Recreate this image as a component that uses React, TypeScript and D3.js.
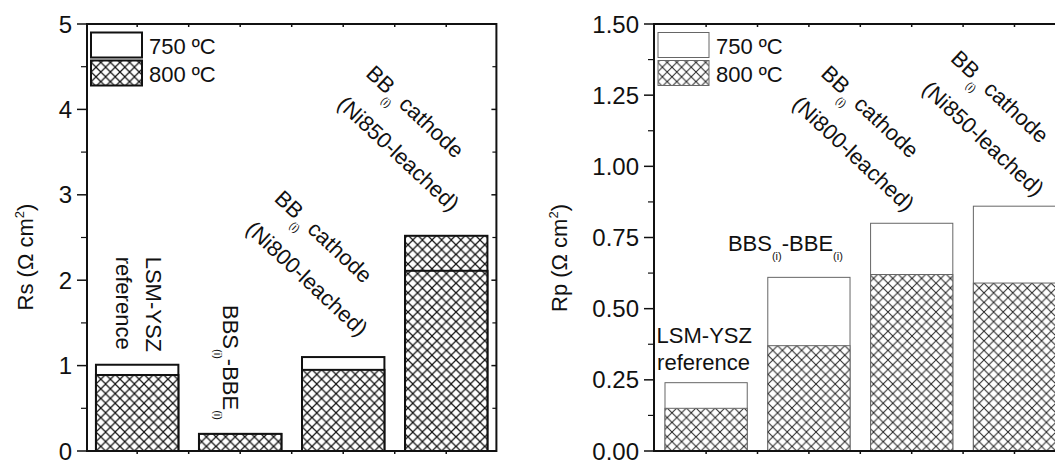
import React from "react";
import * as d3 from "d3";

const categories = ["LSM-YSZ reference", "BBS(i)-BBE(i)", "BB(i) cathode (Ni800-leached)", "BB(i) cathode (Ni850-leached)"];
const rs750 = [1.01, 0.2, 1.1, 2.52];
const rs800 = [0.89, 0.2, 0.95, 2.11];
const rp750 = [0.24, 0.61, 0.8, 0.86];
const rp800 = [0.15, 0.37, 0.62, 0.59];
const rsTicks = [0, 1, 2, 3, 4, 5];
const rsTickLabels = ["0", "1", "2", "3", "4", "5"];
const rpTicks = [0, 0.25, 0.5, 0.75, 1.0, 1.25, 1.5];
const rpTickLabels = ["0.00", "0.25", "0.50", "0.75", "1.00", "1.25", "1.50"];
const legendLabels = ["750 ºC", "800 ºC"];

const FONT = "'Liberation Sans', Arial, Helvetica, sans-serif";
const TOP = 24;
const BOTTOM = 451;

function Hatch({ id, color, sw }: { id: string; color: string; sw: number }) {
  const s = 9.6;
  return (
    <pattern id={id} width={s} height={s} patternUnits="userSpaceOnUse">
      <rect width={s} height={s} fill="white" />
      <path d={`M-1,-1 L${s + 1},${s + 1} M${s + 1},-1 L-1,${s + 1}`} stroke={color} strokeWidth={sw} />
    </pattern>
  );
}

function Panel(props: {
  x0: number; x1: number; po: number; max: number; ticks: number[]; tickLabels: string[];
  minorStep: number; v750: number[]; v800: number[]; barStroke: string; barSW: number;
  hatchId: string; hatchUpper: number[];
}) {
  const { x0, x1, po, max, ticks, tickLabels, minorStep, v750, v800, barStroke, barSW, hatchId, hatchUpper } = props;
  const x = d3.scaleBand<number>().domain(categories.map((_, i) => i)).range([x0, x1]).paddingInner(0.2).paddingOuter(po);
  const y = d3.scaleLinear().domain([0, max]).range([BOTTOM, TOP]);
  const bw = x.bandwidth();
  const step = x.step();
  const minor = d3.range(0, max + 1e-9, minorStep).filter((v) => !ticks.some((t) => Math.abs(t - v) < 1e-9));
  const catTicks: number[] = [];
  categories.forEach((_, i) => {
    catTicks.push(x(i)! + bw / 2);
    catTicks.push(x(i)! + bw + (step - bw) / 2);
  });
  return (
    <g>
      {categories.map((_, i) => (
        <g key={i}>
          <rect x={x(i)} y={y(v750[i])} width={bw} height={y(0) - y(v750[i])}
            fill={hatchUpper.includes(i) ? `url(#${hatchId})` : "white"} stroke={barStroke} strokeWidth={barSW} />
          <rect x={x(i)} y={y(v800[i])} width={bw} height={y(0) - y(v800[i])}
            fill={`url(#${hatchId})`} stroke={barStroke} strokeWidth={barSW} />
        </g>
      ))}
      <rect x={x0} y={TOP} width={x1 - x0} height={BOTTOM - TOP} fill="none" stroke="#111" strokeWidth={2} />
      {ticks.map((t, i) => (
        <g key={"t" + i}>
          <line x1={x0 - 10} x2={x0} y1={y(t)} y2={y(t)} stroke="#111" strokeWidth={1.5} />
          <line x1={x1 - 5} x2={x1} y1={y(t)} y2={y(t)} stroke="#111" strokeWidth={1.5} />
          <text x={x0 - 15} y={y(t) + 8.5} textAnchor="end" fontSize={24} fontFamily={FONT} fill="#111">{tickLabels[i]}</text>
        </g>
      ))}
      {minor.map((t, i) => (
        <g key={"m" + i}>
          <line x1={x0 - 6} x2={x0} y1={y(t)} y2={y(t)} stroke="#111" strokeWidth={1.2} />
          <line x1={x1 - 4} x2={x1} y1={y(t)} y2={y(t)} stroke="#111" strokeWidth={1.2} />
        </g>
      ))}
      {catTicks.filter((c) => c < x1 - 2).map((c, i) => (
        <g key={"c" + i}>
          <line x1={c} x2={c} y1={TOP} y2={TOP + 3} stroke="#111" strokeWidth={1.5} />
          <line x1={c} x2={c} y1={BOTTOM} y2={BOTTOM + 3} stroke="#111" strokeWidth={1.5} />
        </g>
      ))}
      {legendLabels.map((l, i) => (
        <g key={"l" + i}>
          <rect x={x0 + 4} y={TOP + 8.5 + i * 28} width={51} height={25}
            fill={i === 0 ? "white" : `url(#${hatchId})`} stroke={barStroke} strokeWidth={barSW} />
          <text x={x0 + 62} y={TOP + 29.5 + i * 28} fontSize={22} fontFamily={FONT} fill="#111">{l}</text>
        </g>
      ))}
    </g>
  );
}

export default function App() {
  const xl = d3.scaleBand<number>().domain(categories.map((_, i) => i)).range([87, 496.4]).paddingInner(0.2).paddingOuter(0.087);
  const xr = d3.scaleBand<number>().domain(categories.map((_, i) => i)).range([654, 1066.6]).paddingInner(0.2).paddingOuter(0.107);
  const cl = (i: number) => xl(i)! + xl.bandwidth() / 2;
  const cr = (i: number) => xr(i)! + xr.bandwidth() / 2;
  const ang = 43;
  const diag = (ox: number, oy: number, l2: string, key: string) => (
    <text key={key} transform={`translate(${ox},${oy}) rotate(${ang})`} fontSize={22} fontFamily={FONT} fill="#111" style={{ whiteSpace: "pre" }}>
      <tspan x={0} y={0}>BB</tspan>
      <tspan fontSize={11} dy={9}>(i)</tspan>
      <tspan dy={-9}> cathode</tspan>
      <tspan x={0} y={42}>{l2}</tspan>
    </text>
  );
  return (
    <svg width={1055} height={460} style={{ position: "absolute", left: 0, top: 0, background: "white" }} fontFamily={FONT}>
      <defs>
        <Hatch id="hatchL" color="#111" sw={1.2} />
        <Hatch id="hatchR" color="#222" sw={1} />
      </defs>
      <rect width={1055} height={460} fill="white" />
      <Panel x0={87} x1={496.4} po={0.087} max={5} ticks={rsTicks} tickLabels={rsTickLabels} minorStep={0.5}
        v750={rs750} v800={rs800} barStroke="#111" barSW={2} hatchId="hatchL" hatchUpper={[3]} />
      <Panel x0={654} x1={1066.6} po={0.107} max={1.5} ticks={rpTicks} tickLabels={rpTickLabels} minorStep={0.125}
        v750={rp750} v800={rp800} barStroke="#666" barSW={1} hatchId="hatchR" hatchUpper={[]} />

      <text transform="translate(32.5,257) rotate(-90)" textAnchor="middle" fontSize={22} fill="#111">
        Rs (Ω cm<tspan fontSize={13} dy={-9}>2</tspan><tspan dy={9}>)</tspan>
      </text>
      <text transform="translate(566.7,258) rotate(-90)" textAnchor="middle" fontSize={22} fill="#111">
        Rp (Ω cm<tspan fontSize={13} dy={-9}>2</tspan><tspan dy={9}>)</tspan>
      </text>

      <text transform={`translate(${cl(0) + 8.5},256.7) rotate(90)`} fontSize={22} fill="#111">
        <tspan x={0} y={0}>LSM-YSZ</tspan>
        <tspan x={0} y={30}>reference</tspan>
      </text>
      <text transform={`translate(${cl(1) - 17.5},305) rotate(90)`} fontSize={22} fill="#111">
        BBS<tspan fontSize={11} dy={9}>(i)</tspan><tspan dy={-9}>-BBE</tspan><tspan fontSize={11} dy={9}>(i)</tspan>
      </text>
      {diag(cl(2) - 70, 200, "(Ni800-leached)", "d1")}
      {diag(cl(3) - 81.5, 75, "(Ni850-leached)", "d2")}

      <text x={cr(0) - 49.5} y={343.3} fontSize={22} fill="#111">LSM-YSZ</text>
      <text x={cr(0) - 49} y={370} fontSize={22} fill="#111">reference</text>
      <text x={cr(1) - 81} y={250.7} fontSize={22} fill="#111">
        BBS<tspan fontSize={11} dy={9}>(i)</tspan><tspan dy={-9}>-BBE</tspan><tspan fontSize={11} dy={9}>(i)</tspan>
      </text>
      {diag(cr(2) - 92, 75, "(Ni800-leached)", "d3")}
      {diag(cr(3) - 65, 60, "(Ni850-leached)", "d4")}
    </svg>
  );
}
